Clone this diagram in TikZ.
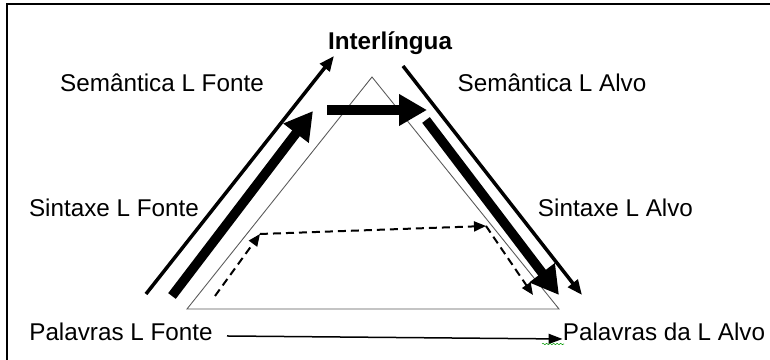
\documentclass[tikz,border=0pt]{standalone}
\usepackage{fontspec}
\setmainfont{Liberation Sans}
\usepackage{tikz}
\usetikzlibrary{
    arrows.meta,
    decorations.pathmorphing
}

\begin{document}
\begin{tikzpicture}[
    lbl/.style={inner sep=0pt, font=\fontsize{13.8}{16}\selectfont},
    fino/.style={line width=0.07cm, -{Triangle[length=0.3cm, width=0.24cm]}},
    grosso/.style={line width=0.19cm, -{Triangle[length=0.56cm, width=0.6cm]}},
    tracejado/.style={line width=0.04cm, dash pattern=on 0.16cm off 0.1cm,
        -{Triangle[length=0.24cm, width=0.2cm]}}
]
\useasboundingbox (0,0) rectangle (15.4,7.2);

% Frame
\draw[line width=0.04cm] (0.14,0) -- (0.14,7.12) -- (15.4,7.12);

% Triangle
\draw[line width=0.5pt, gray!70!black] (7.44,5.66) -- (3.74,1.02) -- (11.18,1.02) -- cycle;

% Labels
\node[lbl, font=\fontsize{13.8}{16}\selectfont\bfseries] (inter) at (7.80,6.34) {Interlíngua};
\node[lbl] (semFonte) at (3.24,5.54) {Semântica L Fonte};
\node[lbl] (semAlvo) at (11.04,5.54) {Semântica L Alvo};
\node[lbl] (sinFonte) at (2.28,3.04) {Sintaxe L Fonte};
\node[lbl] (sinAlvo) at (12.31,3.04) {Sintaxe L Alvo};
\node[lbl] (palFonte) at (2.42,0.56) {Palavras L Fonte};
\node[lbl] (palAlvo) at (13.28,0.56) {Palavras da L Alvo};

% Arrow ends
\coordinate (a1) at (2.92,1.32);
\coordinate (a2) at (6.68,6.08);
\coordinate (b1) at (3.44,1.28);
\coordinate (b2) at (6.26,4.98);
\coordinate (c1) at (6.54,5.00);
\coordinate (c2) at (8.54,5.00);
\coordinate (e1) at (8.52,4.80);
\coordinate (e2) at (11.18,1.30);
\coordinate (f1) at (8.06,5.88);
\coordinate (f2) at (11.64,1.30);

% Arrows up and down the sides
\draw[fino] (a1) -- (a2);
\draw[grosso] (b1) -- (b2);
\draw[grosso] (c1) -- (c2);
\draw[grosso] (e1) -- (e2);
\draw[fino] (f1) -- (f2);

% Dashed path
\coordinate (d1) at (4.30,1.28);
\coordinate (d2) at (5.20,2.52);
\coordinate (d3) at (9.72,2.68);
\coordinate (d4) at (10.66,1.30);
\draw[tracejado] (d1) -- (d2);
\draw[tracejado] (d2) -- (d3);
\draw[tracejado] (d3) -- (d4);

% Direct transfer
\draw[line width=0.03cm, -{Triangle[length=0.28cm, width=0.2cm]}]
    (4.54,0.48) coordinate (g1) -- (palAlvo.west |- 0,0.42);
\draw[green!60!black, line width=0.3pt, decorate,
    decoration={snake, amplitude=0.4pt, segment length=2pt}] (10.84,0.32) -- (11.28,0.32);

\end{tikzpicture}
\end{document}
